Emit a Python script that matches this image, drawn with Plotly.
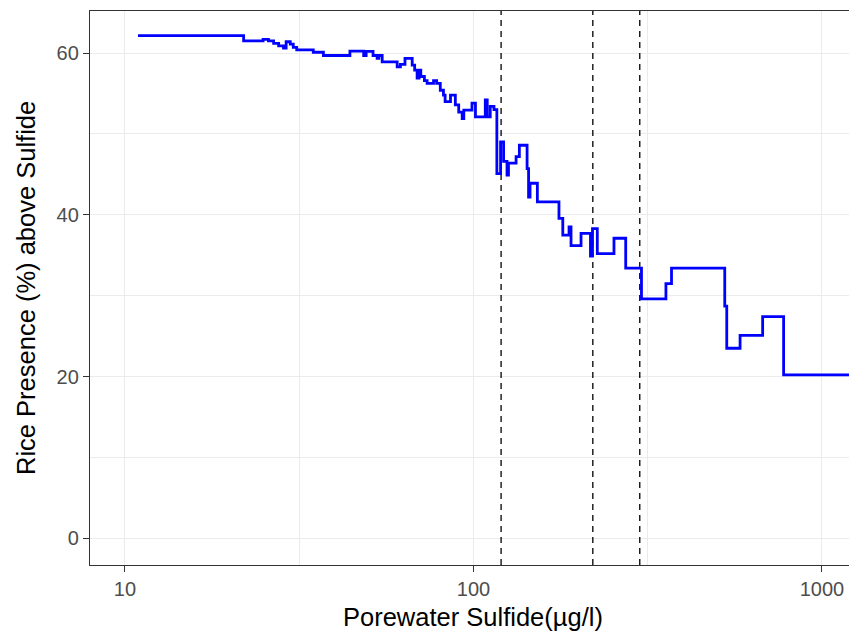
import plotly.graph_objects as go

# Step curve: sulfide concentration (µg/l) where each new level starts, and rice presence (%)
sulfide = [10.9, 21.9, 24.9, 25.8, 26.7, 27.6, 28.5, 29.0, 29.8, 30.4, 31.1, 34.7, 37.1,
           44.2, 48.4, 49.2, 51.5, 52.9, 53.5, 54.7, 60.4, 61.7, 63.6, 66.7, 67.8, 68.9,
           69.8, 70.6, 72.3, 73.6, 76.8, 78.4, 80.3, 82.0, 82.9, 85.9, 88.7, 90.7, 92.8,
           93.8, 99.0, 101.3, 108.1, 109.5, 111.7, 114.5, 116.7, 119.6, 122.0, 124.8,
           126.0, 132.5, 135.4, 142.5, 143.9, 145.3, 152.5, 175.9, 180.4, 188.0, 190.5,
           203.5, 216.6, 219.5, 226.6, 253.0, 273.4, 303.4, 356.6, 370.0, 526.0, 533.0,
           582.0, 675.6, 776.0, 2000.0]
presence = [62.15, 61.5, 61.7, 61.5, 61.2, 60.9, 60.6, 61.4, 61.1, 60.7, 60.4, 60.1, 59.7,
            60.25, 59.7, 60.2, 59.7, 59.35, 59.7, 58.9, 58.3, 58.6, 59.35, 58.5, 57.9, 56.9,
            57.9, 57.1, 56.6, 56.25, 56.6, 56.25, 55.4, 54.8, 54.0, 54.8, 53.6, 52.7, 51.9,
            52.95, 53.8, 52.1, 54.2, 52.1, 53.4, 53.0, 45.1, 49.0, 46.6, 44.9,
            46.4, 47.2, 48.6, 45.7, 42.2, 43.9, 41.6, 39.55, 37.5, 38.5, 36.2,
            37.7, 34.9, 38.3, 35.2, 37.1, 33.4, 29.6, 31.5, 33.4, 28.7, 23.5,
            25.1, 27.4, 20.2, 20.2]

# Threshold lines (µg/l)
thresholds = [120, 220, 300]

x_ticks = [10, 100, 1000]
x_tick_labels = ["10", "100", "1000"]
x_minor = [31.62, 316.2]
y_ticks = [0, 20, 40, 60]
y_minor = [10, 30, 50]

Y_RANGE = [-3.3, 65.2]

fig = go.Figure()

vx, vy = [], []
for t in thresholds:
    vx += [t, t, None]
    vy += [Y_RANGE[0], Y_RANGE[1], None]
fig.add_trace(go.Scatter(x=vx, y=vy, mode="lines",
                         line=dict(color="black", width=1.3, dash="6px,5px"),
                         hoverinfo="skip", showlegend=False))

fig.add_trace(go.Scatter(x=sulfide, y=presence, mode="lines", line_shape="hv",
                         line=dict(color="#0000FF", width=2.8), showlegend=False))

font_family = "Liberation Sans, Arial, sans-serif"

fig.update_layout(
    width=849, height=633,
    margin=dict(l=90, r=0, t=11, b=68),
    paper_bgcolor="white", plot_bgcolor="white",
    font=dict(family=font_family, color="#4D4D4D", size=20),
    showlegend=False,
)

fig.update_xaxes(
    type="log", range=[0.8996, 3.0775],
    tickmode="array", tickvals=x_ticks, ticktext=x_tick_labels,
    ticks="outside", ticklen=6, tickwidth=1.1, tickcolor="#333333",
    tickfont=dict(size=20, color="#4D4D4D"),
    showline=True, linecolor="#333333", linewidth=1.3, mirror=True,
    showgrid=True, gridcolor="#EBEBEB", gridwidth=1.1,
    minor=dict(tickmode="array", tickvals=x_minor, showgrid=True,
               gridcolor="#EBEBEB", gridwidth=0.6, ticks=""),
    zeroline=False,
)
fig.update_yaxes(
    range=Y_RANGE,
    tickmode="array", tickvals=y_ticks,
    ticks="outside", ticklen=6, tickwidth=1.1, tickcolor="#333333",
    tickfont=dict(size=20, color="#4D4D4D"),
    showline=True, linecolor="#333333", linewidth=1.3, mirror=False,
    showgrid=True, gridcolor="#EBEBEB", gridwidth=1.1,
    minor=dict(tickmode="array", tickvals=y_minor, showgrid=True,
               gridcolor="#EBEBEB", gridwidth=0.6, ticks=""),
    zeroline=False,
)

fig.add_annotation(text="Porewater Sulfide(µg/l)", xref="paper", yref="paper",
                   x=0.505, y=0, xanchor="center", yanchor="middle", yshift=-52,
                   showarrow=False, font=dict(size=25.5, color="black", family=font_family))
fig.add_annotation(text="Rice Presence (%) above Sulfide", xref="paper", yref="paper",
                   x=0, y=0.5, xanchor="center", yanchor="middle", xshift=-64,
                   textangle=-90, showarrow=False,
                   font=dict(size=25.5, color="black", family=font_family))

fig.write_html("out.html")
